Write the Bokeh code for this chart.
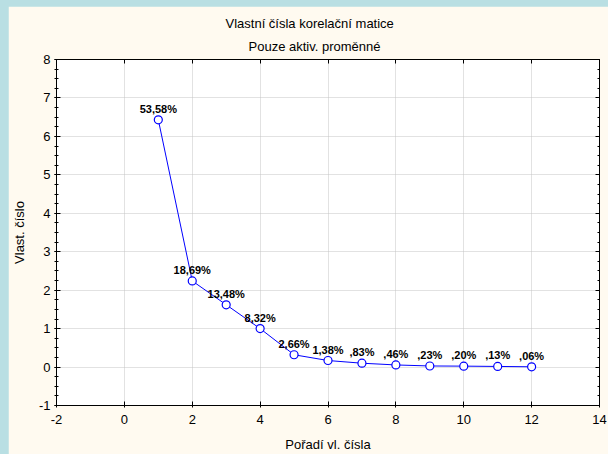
from bokeh.plotting import figure
from bokeh.layouts import column
from bokeh.models import (Range1d, LinearAxis, SingleIntervalTicker,
                          ColumnDataSource, LabelSet, Title, CustomJSTickFormatter)
from bokeh.core.properties import value
from bokeh.embed import file_html
from bokeh.resources import INLINE

# ---- data ----
order = [1, 2, 3, 4, 5, 6, 7, 8, 9, 10, 11, 12]
eigenvalues = [6.43, 2.24, 1.62, 1.00, 0.32, 0.17, 0.10, 0.055, 0.028, 0.024, 0.016, 0.007]
pct_labels = ["53,58%", "18,69%", "13,48%", "8,32%", "2,66%", "1,38%",
              ",83%", ",46%", ",23%", ",20%", ",13%", ",06%"]
title_main = "Vlastní čísla  korelační matice"
title_sub = "Pouze aktiv. proměnné"
x_label = "Pořadí vl. čísla"
y_label = "Vlast. číslo"

FONT = "Liberation Sans"
CREAM = "#fffaf0"
BLUE_BG = "#b9dfe3"

src = ColumnDataSource(dict(x=order, y=eigenvalues, lab=pct_labels))

p = figure(width=600, height=448, output_backend="svg", toolbar_location=None,
           x_range=Range1d(-2, 14), y_range=Range1d(-1, 8),
           x_axis_location=None, y_axis_location=None)
p.margin = (6, 0, 0, 8)
p.min_border_left = 46
p.min_border_right = 9
p.min_border_top = 53
p.min_border_bottom = 47
p.border_fill_color = CREAM
p.background_fill_color = "white"
p.outline_line_color = "black"
p.outline_line_width = 1
p.title.visible = False

xt = SingleIntervalTicker(interval=2, num_minor_ticks=0)
yt = SingleIntervalTicker(interval=1, num_minor_ticks=4)
plain_fmt = CustomJSTickFormatter(code="return String(tick)")
blank_fmt = CustomJSTickFormatter(code="return ''")

def style_axis(ax):
    ax.axis_line_color = "black"
    ax.major_tick_line_color = "black"
    ax.minor_tick_line_color = "black"
    ax.major_label_text_font = FONT
    ax.axis_label_text_font = FONT
    ax.major_label_text_font_size = "13px"
    ax.axis_label_text_font_size = "13px"
    ax.axis_label_text_font_style = "normal"
    ax.axis_label_text_color = "black"
    ax.major_label_text_color = "black"

xb = LinearAxis(ticker=xt, axis_label=x_label, formatter=plain_fmt)
style_axis(xb)
xb.major_tick_in = 4
xb.major_tick_out = 2
xb.major_label_standoff = 7
xb.axis_label_standoff = 10
p.add_layout(xb, "below")

yl = LinearAxis(ticker=yt, axis_label=y_label, formatter=plain_fmt)
style_axis(yl)
yl.major_tick_in = 4
yl.major_tick_out = 2
yl.minor_tick_in = 2
yl.minor_tick_out = 2
yl.major_label_standoff = 4
yl.axis_label_standoff = 9
p.add_layout(yl, "left")

xa = LinearAxis(ticker=xt, formatter=blank_fmt)
style_axis(xa)
xa.major_tick_in = 4
xa.major_tick_out = 0
xa.major_label_standoff = 0
p.add_layout(xa, "above")

yr = LinearAxis(ticker=yt, formatter=blank_fmt)
style_axis(yr)
yr.major_tick_in = 4
yr.major_tick_out = 0
yr.minor_tick_in = 2
yr.minor_tick_out = 0
yr.major_label_standoff = 0
p.add_layout(yr, "right")

p.xgrid.ticker = xt
p.ygrid.ticker = yt
for g in (p.xgrid, p.ygrid):
    g.grid_line_color = "#c4c4c4"
    g.grid_line_dash = "1 1"
    g.grid_line_width = 1

p.line("x", "y", source=src, line_color="#0000ff", line_width=1)
p.scatter("x", "y", source=src, size=8, marker="circle", fill_color="white",
          line_color="#0000ff", line_width=1.2)

labels = LabelSet(x="x", y="y", text="lab", source=src, text_align="center",
                  text_baseline="bottom", y_offset=5, text_font=value(FONT),
                  text_font_size="11px", text_font_style="bold", text_color="black")
p.add_layout(labels)

t_sub = Title(text=title_sub, align="left", text_font=FONT, text_font_size="13px",
              text_font_style="normal", text_color="black", offset=192, standoff=12)
t_main = Title(text=title_main, align="left", text_font=FONT, text_font_size="13px",
               text_font_style="normal", text_color="black", offset=169, standoff=0)
p.add_layout(t_sub, "above")
p.add_layout(t_main, "above")

layout = column(p, styles={"background-color": BLUE_BG})

open("out.html", "w").write(file_html(layout, INLINE))
